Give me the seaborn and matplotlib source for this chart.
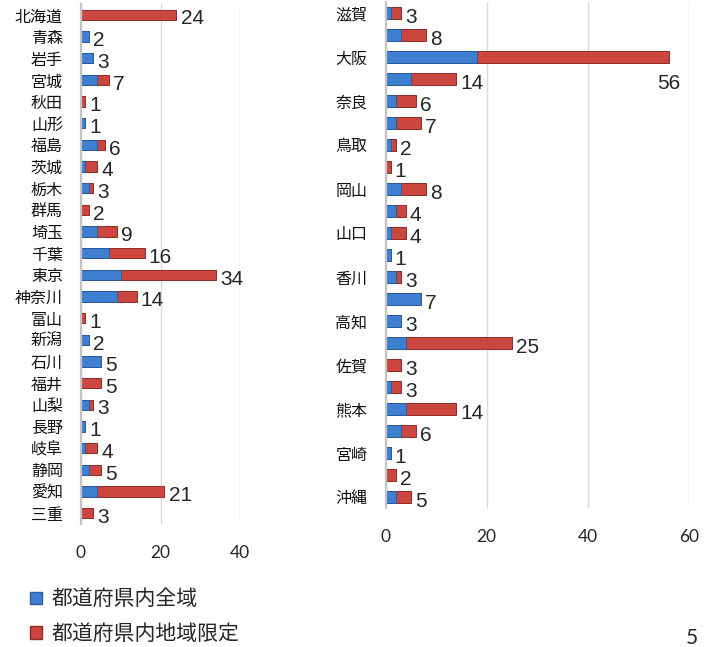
import matplotlib
matplotlib.use("Agg")
import matplotlib.pyplot as plt
import seaborn as sns
from matplotlib.patches import Patch

# ---- data ----
left_names = ['北海道', '青森', '岩手', '宮城', '秋田', '山形', '福島', '茨城', '栃木', '群馬',
              '埼玉', '千葉', '東京', '神奈川', '富山', '新潟', '石川', '福井', '山梨', '長野',
              '岐阜', '静岡', '愛知', '三重']
left_wide = [0, 2, 3, 4, 0, 1, 4, 1, 2, 0, 4, 7, 10, 9, 0, 2, 5, 0, 2, 1, 1, 2, 4, 0]
left_local = [24, 0, 0, 3, 1, 0, 2, 3, 1, 2, 5, 9, 24, 5, 1, 0, 0, 5, 1, 0, 3, 3, 17, 3]

right_names = ['滋賀', '京都', '大阪', '兵庫', '奈良', '和歌山', '鳥取', '島根', '岡山', '広島',
               '山口', '徳島', '香川', '愛媛', '高知', '福岡', '佐賀', '長崎', '熊本', '大分',
               '宮崎', '鹿児島', '沖縄']
right_wide = [1, 3, 18, 5, 2, 2, 1, 0, 3, 2, 1, 1, 2, 7, 3, 4, 0, 1, 4, 3, 1, 0, 2]
right_local = [2, 5, 38, 9, 4, 5, 1, 1, 5, 2, 3, 0, 1, 0, 0, 21, 3, 2, 10, 3, 0, 2, 3]

left_ticks = [0, 20, 40]
right_ticks = [0, 20, 40, 60]
series_names = ['都道府県内全域', '都道府県内地域限定']
page_number = '5'

BLUE = '#3f7fd2'
RED = '#cc4640'
BLUE_EDGE = '#2b5c9c'
RED_EDGE = '#8f2b27'

sns.set_style('white')
plt.rcParams['font.family'] = ['Noto Sans CJK JP', 'DejaVu Sans']

fig = plt.figure(figsize=(7.14, 6.47), dpi=100)
W, H = 714, 647


def px_axes(x0, y0, x1, y1):
    return fig.add_axes([x0 / W, 1 - y1 / H, (x1 - x0) / W, (y1 - y0) / H])


def draw(ax, names, wide, local, xmax, ticks, width, show_every):
    totals = [a + b for a, b in zip(wide, local)]
    sns.barplot(x=totals, y=names, orient='h', color=RED, width=width,
                edgecolor=RED_EDGE, linewidth=0.7, saturation=1, ax=ax)
    sns.barplot(x=wide, y=names, orient='h', color=BLUE, width=width,
                edgecolor=BLUE_EDGE, linewidth=0.7, saturation=1, ax=ax)
    n = len(names)
    ax.set_xlim(0, xmax)
    ax.set_ylim(n - 0.5, -0.5)
    ax.set_xticks(ticks)
    ax.set_xticklabels([str(t) for t in ticks], family=['Lato', 'DejaVu Sans'], fontsize=12.5)
    ax.set_yticks(range(n))
    ax.set_yticklabels([nm if i % show_every == 0 else '' for i, nm in enumerate(names)],
                       fontsize=11.5, color='#111111')
    ax.tick_params(axis='x', length=0, pad=15)
    ax.tick_params(axis='y', length=0, pad=13)
    ax.set_xlabel('')
    ax.set_ylabel('')
    ax.grid(axis='x', color='#dadada', linewidth=1)
    ax.set_axisbelow(True)
    for s in ['top', 'right', 'bottom']:
        ax.spines[s].set_visible(False)
    ax.spines['left'].set_color('#c4c4c4')
    ax.spines['left'].set_linewidth(1.6)
    for i, t in enumerate(totals):
        if t > xmax * 0.9:
            ax.annotate(str(t), xy=(t, i), xytext=(0, -19), textcoords='offset points',
                        ha='center', va='center', fontsize=15,
                        family=['Liberation Sans', 'DejaVu Sans'], annotation_clip=False)
        else:
            ax.annotate(str(t), xy=(t, i), xytext=(3, -3), textcoords='offset points',
                        ha='left', va='center', fontsize=15,
                        family=['Liberation Sans', 'DejaVu Sans'], annotation_clip=False)


ax1 = px_axes(81, 4, 240, 524)
draw(ax1, left_names, left_wide, left_local, 40, left_ticks, 0.47, 1)

ax2 = px_axes(385.5, 2, 689, 508)
draw(ax2, right_names, right_wide, right_local, 60, right_ticks, 0.55, 2)

handles = [Patch(facecolor=BLUE, edgecolor=BLUE_EDGE), Patch(facecolor=RED, edgecolor=RED_EDGE)]
fig.legend(handles, series_names, loc='upper left', bbox_to_anchor=(22 / W, 1 - 580 / H),
           frameon=False, fontsize=15, handlelength=0.55, handleheight=0.55,
           handletextpad=0.45, labelspacing=0.6, borderaxespad=0)

fig.text(692 / W, 1 - 628 / H, page_number, ha='center', va='top', fontsize=15,
         family=['Lato', 'DejaVu Sans'])

fig.savefig('out.png', dpi=100)
